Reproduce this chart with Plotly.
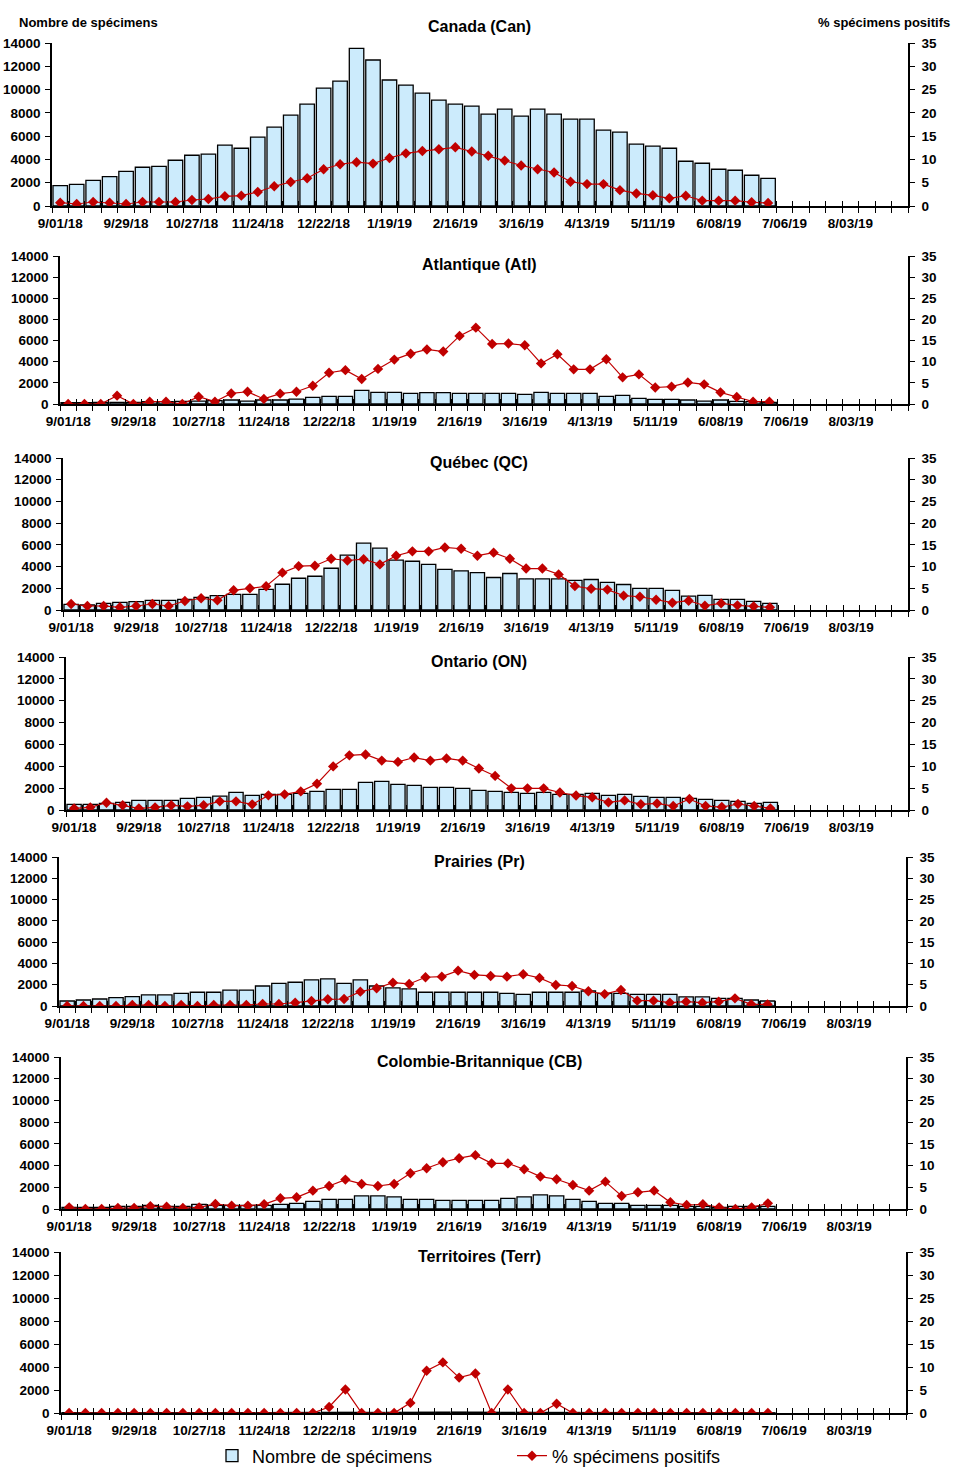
import plotly.graph_objects as go
import pandas as pd

# ---------------- data ----------------
weeks = [d.strftime("%-m/%d/%y") for d in pd.date_range("2018-09-01", periods=52, freq="7D")]
tick_labels = ["9/01/18", "9/29/18", "10/27/18", "11/24/18", "12/22/18", "1/19/19", "2/16/19",
               "3/16/19", "4/13/19", "5/11/19", "6/08/19", "7/06/19", "8/03/19"]

can_n = [1750, 1860, 2200, 2520, 2980, 3330, 3410, 3930, 4360, 4450, 5220, 4960, 5910, 6770, 7800,
         8750, 10130, 10730, 13540, 12540, 10820, 10390, 9700, 9090, 8750, 8580, 7890, 8320, 7720,
         8320, 7890, 7460, 7460, 6510, 6340, 5310, 5135, 4960, 3845, 3670, 3155, 3070, 2640, 2380]
can_pct = [0.72, 0.43, 0.86, 0.72, 0.43, 0.86, 0.86, 0.86, 1.29, 1.5, 2.08, 2.22, 3.0, 4.23, 5.16,
           5.95, 7.9, 8.97, 9.4, 9.1, 10.3, 11.3, 11.8, 12.2, 12.6, 11.7, 10.8, 9.75, 8.7, 7.9, 7.2,
           5.2, 4.7, 4.7, 3.4, 2.7, 2.3, 1.65, 2.2, 1.15, 1.15, 1.15, 0.8, 0.65]

atl_n = [130, 130, 160, 160, 160, 220, 220, 250, 280, 320, 380, 280, 380, 380, 470, 630, 720, 720,
         1290, 1100, 1100, 1010, 1070, 1070, 1010, 1010, 1010, 1010, 910, 1100, 1010, 1010, 1010, 720,
         820, 540, 440, 440, 380, 280, 380, 250, 220, 160]
atl_pct = [0, 0, 0, 1.97, 0, 0.55, 0.55, 0, 1.73, 0.55, 2.5, 2.9, 1.2, 2.45, 2.9, 4.3, 7.4, 8.0, 5.9,
           8.3, 10.5, 11.9, 12.9, 12.4, 16.1, 18.05, 14.2, 14.3, 13.9, 9.6, 11.75, 8.2, 8.2, 10.6, 6.3,
           7.0, 3.9, 4.1, 5.1, 4.65, 2.76, 1.66, 0.55, 0.55]

qc_n = [523, 460, 615, 708, 770, 892, 892, 985, 1170, 1323, 1446, 1446, 1908, 2370, 2923, 3108, 3846,
        5046, 6154, 5692, 4585, 4492, 4200, 3740, 3610, 3450, 2995, 3360, 2870, 2870, 2870, 2720,
        2810, 2540, 2350, 1990, 1990, 1800, 1280, 1345, 980, 980, 795, 610]
qc_pct = [1.38, 0.92, 0.92, 0.62, 0.92, 1.38, 0.92, 2.08, 2.7, 2.23, 4.54, 5.0, 5.46, 8.6, 10.1, 10.2,
          11.8, 11.4, 11.7, 10.5, 12.5, 13.5, 13.5, 14.4, 14.1, 12.5, 13.2, 11.8, 9.55, 9.55, 8.2, 5.5,
          4.9, 4.7, 3.3, 3.05, 2.37, 1.68, 2.14, 0.99, 1.53, 1.07, 0.84, 0.61]

on_n = [517, 517, 609, 700, 883, 883, 883, 1065, 1157, 1278, 1613, 1339, 1430, 1430, 1522, 1704, 1887,
        1887, 2526, 2617, 2343, 2252, 2070, 2070, 1980, 1800, 1700, 1610, 1520, 1610, 1430, 1430, 1520,
        1340, 1430, 1250, 1160, 1160, 1065, 970, 880, 790, 610, 700]
on_pct = [0.38, 0.61, 1.67, 1.07, 0.38, 0.61, 1.07, 0.84, 1.07, 1.98, 1.98, 1.29, 3.35, 3.58, 4.26,
          6.0, 9.97, 12.5, 12.7, 11.3, 11.0, 12.0, 11.3, 11.8, 11.3, 9.5, 7.8, 4.95, 4.95, 4.95, 4.0,
          3.3, 2.9, 1.75, 2.2, 1.3, 1.5, 0.9, 2.5, 0.9, 0.68, 1.37, 0.9, 0.38]

pr_n = [470, 565, 660, 785, 880, 1036, 1036, 1190, 1290, 1290, 1500, 1500, 1880, 2135, 2230, 2450,
        2540, 2135, 2450, 1880, 1700, 1600, 1290, 1290, 1290, 1290, 1290, 1190, 1100, 1290, 1290, 1290,
        1410, 1190, 1190, 1100, 1100, 1100, 850, 850, 720, 720, 565, 470]
pr_pct = [0, 0, 0, 0, 0.24, 0.24, 0, 0.24, 0, 0.24, 0.24, 0.24, 0.47, 0.47, 0.78, 1.18, 1.57, 1.65,
          3.37, 4.16, 5.49, 5.18, 6.75, 6.9, 8.3, 7.3, 7.06, 6.9, 7.45, 6.6, 4.94, 4.7, 3.45, 2.8, 3.77,
          1.26, 1.26, 0.78, 1.02, 0.78, 1.02, 1.8, 0.39, 0.39]

cb_n = [154, 154, 154, 246, 246, 338, 246, 246, 430, 338, 338, 338, 338, 430, 523, 708, 892, 892, 1200,
        1200, 1108, 892, 892, 800, 800, 800, 800, 985, 1108, 1292, 1200, 892, 708, 523, 523, 338, 338,
        338, 246, 246, 154, 246, 246, 246]
cb_pct = [0.38, 0, 0, 0.23, 0.23, 0.62, 0.54, 0.23, 0.38, 1.15, 0.77, 0.77, 1.08, 2.46, 2.69, 4.23,
          5.3, 6.77, 5.77, 5.3, 5.77, 8.23, 9.38, 10.77, 11.7, 12.4, 10.5, 10.5, 9.15, 7.46, 6.85, 5.54,
          4.23, 6.3, 3.0, 3.85, 4.23, 1.54, 0.92, 1.08, 0.38, 0, 0.38, 1.3]

terr_n = [30, 25, 20, 30, 28, 35, 30, 25, 32, 30, 35, 30, 28, 40, 45, 50, 55, 60, 50, 48, 55, 60, 70,
          75, 80, 72, 60, 55, 58, 50, 48, 45, 40, 40, 38, 35, 30, 30, 28, 25, 22, 25, 20, 20]
terr_pct = [0, 0, 0, 0, 0, 0, 0, 0, 0, 0, 0, 0, 0, 0, 0, 0, 1.3, 5.1, 0, 0, 0, 2.2, 9.2, 11.0, 7.7,
            8.6, 0, 5.1, 0, 0, 2.0, 0, 0, 0, 0, 0, 0, 0, 0, 0, 0, 0, 0, 0]

regions = ["Canada (Can)", "Atlantique (Atl)", "Québec (QC)", "Ontario (ON)", "Prairies (Pr)",
           "Colombie-Britannique (CB)", "Territoires (Terr)"]
counts = [can_n, atl_n, qc_n, on_n, pr_n, cb_n, terr_n]
pcts = [can_pct, atl_pct, qc_pct, on_pct, pr_pct, cb_pct, terr_pct]

# ---------------- layout geometry (pixels) ----------------
W, H = 958, 1477
# left, right, top(14000), bottom(0), title y
geom = [(52, 908, 43, 206, 26), (60, 908, 256, 404, 264), (63, 908, 458, 610, 462),
        (66, 908, 657, 810, 661), (59, 906, 857, 1006, 861), (61, 906, 1057, 1209, 1061),
        (61, 906, 1252, 1413, 1256)]

FONT = "Liberation Sans, Arial, sans-serif"
BAR_FILL = "#CCEBFC"
RED = "#C00000"

x_idx = list(range(len(weeks)))
tickvals = [weeks.index(t) for t in tick_labels]
bounds = [i - 0.5 for i in range(len(weeks) + 1)]

fig = go.Figure()
layout = dict(width=W, height=H, margin=dict(l=0, r=0, t=0, b=0, autoexpand=False),
              paper_bgcolor="white", plot_bgcolor="white", bargap=0.12, annotations=[],
              font=dict(family=FONT, color="black"))

tickfont = dict(family=FONT, size=13.5, color="black", weight="bold")
n = len(regions)
for k in range(n):
    L, R, T, B, ty = geom[k]
    i = k + 1
    xs, ys, yr, xo = f"x{i}", f"y{i}", f"y{i+n}", f"x{i+n}"
    nx = len(counts[k])
    fig.add_trace(go.Bar(x=x_idx[:nx], y=counts[k], xaxis=xs, yaxis=ys, name="Nombre de spécimens",
                         marker=dict(color=BAR_FILL, line=dict(color="black", width=1.3)),
                         showlegend=(k == 0), legendgroup="n"))
    fig.add_trace(go.Scatter(x=x_idx[:len(pcts[k])], y=pcts[k], xaxis=xs, yaxis=yr, mode="lines+markers",
                             name="% spécimens positifs", line=dict(color=RED, width=1.2),
                             marker=dict(symbol="diamond", size=8, color=RED),
                             showlegend=(k == 0), legendgroup="p"))
    # invisible trace for the overlay axis
    fig.add_trace(go.Scatter(x=[0], y=[0], xaxis=xo, yaxis=ys, mode="markers",
                             marker=dict(opacity=0), showlegend=False, hoverinfo="skip"))
    dom_x = [L / W, R / W]
    dom_y = [1 - B / H, 1 - T / H]
    layout[f"xaxis{i}"] = dict(domain=dom_x, anchor=ys, range=[-0.5, 51.5], tickmode="array",
                              tickvals=tickvals, ticktext=tick_labels, ticks="", tickfont=tickfont,
                              showline=True, linecolor="black", linewidth=1.5, showgrid=False,
                              zeroline=False, ticklabelstandoff=4,
                              minor=dict(tickmode="array", tickvals=bounds, ticks="outside",
                                         ticklen=5, tickcolor="black", tickwidth=1.2, showgrid=False))
    layout[f"xaxis{i+n}"] = dict(overlaying=xs, anchor=ys, range=[-0.5, 51.5], tickmode="array",
                                tickvals=bounds, ticks="inside", ticklen=5, tickcolor="black",
                                tickwidth=1.2, showticklabels=False, showline=False, showgrid=False,
                                zeroline=False)
    layout[f"yaxis{i}"] = dict(domain=dom_y, anchor=xs, range=[0, 14000], tickmode="linear", tick0=0,
                              dtick=2000, tickformat="d", ticks="outside", ticklen=5, tickcolor="black",
                              tickwidth=1.2, showline=True, linecolor="black", linewidth=1.5,
                              showgrid=False, zeroline=False, tickfont=tickfont, ticklabelstandoff=2)
    layout[f"yaxis{i+n}"] = dict(overlaying=ys, anchor=xs, side="right", range=[0, 35], tickmode="linear",
                                tick0=0, dtick=5, tickformat="d", ticks="outside", ticklen=5,
                                tickcolor="black", tickwidth=1.2, showline=True, linecolor="black",
                                linewidth=1.5, showgrid=False, zeroline=False, tickfont=tickfont,
                                ticklabelstandoff=4)
    layout["annotations"].append(dict(text=regions[k], x=479 / W, y=1 - ty / H, xref="paper",
                                      yref="paper", xanchor="center", yanchor="middle", showarrow=False,
                                      font=dict(family=FONT, size=16, color="black", weight="bold")))

layout["annotations"].append(dict(text="Nombre de spécimens", x=17 / W, y=1 - 23 / H, xref="paper",
                                  yref="paper", xanchor="left", yanchor="middle", showarrow=False,
                                  font=dict(family=FONT, size=13, color="black", weight="bold")))
layout["annotations"].append(dict(text="% spécimens positifs", x=952 / W, y=1 - 23 / H, xref="paper",
                                  yref="paper", xanchor="right", yanchor="middle", showarrow=False,
                                  font=dict(family=FONT, size=13, color="black", weight="bold")))

layout["legend"] = dict(orientation="h", x=212 / W, xanchor="left", y=1 - 1456 / H, yanchor="middle",
                        font=dict(family=FONT, size=18, color="black"), entrywidth=255,
                        entrywidthmode="pixels", bgcolor="rgba(0,0,0,0)", itemwidth=30)

fig.update_layout(**layout)
fig.write_html("out.html", config={"displayModeBar": False},
               post_script="document.body.style.margin='0';document.body.style.overflow='hidden';")
